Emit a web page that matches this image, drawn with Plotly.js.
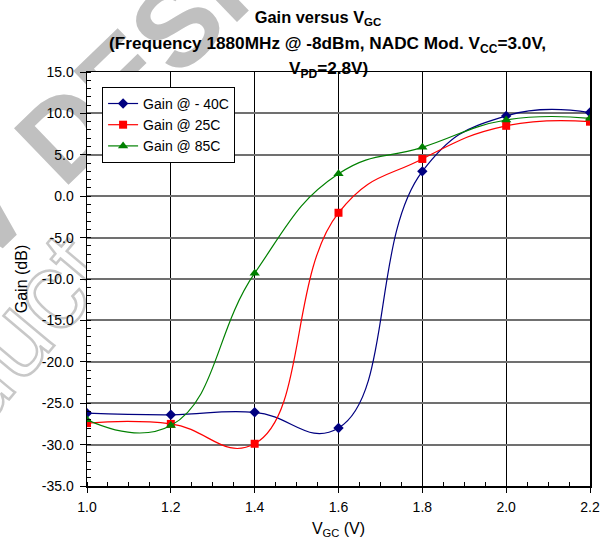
<!DOCTYPE html>
<html>
<head>
<meta charset="utf-8">
<script src="https://cdn.plot.ly/plotly-3.0.1.min.js"></script>
<style>
  html, body { margin: 0; padding: 0; background: #ffffff; }
  #wrap { position: relative; width: 608px; height: 542px; overflow: hidden; }
  #wm { position: absolute; left: 0; top: 0; z-index: 0; }
  #chart { position: absolute; left: 0; top: 0; width: 608px; height: 542px; z-index: 1; }
</style>
</head>
<body>
<div id="wrap">
  <svg id="wm" width="608" height="542" xmlns="http://www.w3.org/2000/svg"></svg>
  <div id="chart"></div>
</div>
<script>
// ---- data ----
const vgc = [1.0, 1.2, 1.4, 1.6, 1.8, 2.0, 2.2];
const gainM40 = [-26.2, -26.4, -26.1, -28.0, 3.0, 9.7, 10.1];
const gain25  = [-27.4, -27.5, -29.9, -2.0, 4.5, 8.5, 9.0];
const gain85  = [-27.0, -27.7, -9.3, 2.7, 5.9, 9.2, 9.4];
const seriesNames = ['Gain @ - 40C', 'Gain @ 25C', 'Gain @ 85C'];
const xTickVals = [1.0, 1.2, 1.4, 1.6, 1.8, 2.0, 2.2];
const xTickText = ['1.0', '1.2', '1.4', '1.6', '1.8', '2.0', '2.2'];
const yTickVals = [-35, -30, -25, -20, -15, -10, -5, 0, 5, 10, 15];
const yTickText = ['-35.0', '-30.0', '-25.0', '-20.0', '-15.0', '-10.0', '-5.0', '0.0', '5.0', '10.0', '15.0'];
const titleLine1 = '<b>Gain versus V<sub>GC</sub></b>';
const titleLine2 = '<b>(Frequency 1880MHz @ -8dBm, NADC Mod. V<sub>CC</sub>=3.0V,</b>';
const titleLine3 = '<b>V<sub>PD</sub>=2.8V)</b>';
const xTitle = 'V<sub>GC</sub> (V)';
const yTitle = 'Gain (dB)';
const wmLine1a = 'NEW';
const wmLine1b = 'DESIGN';
const wmLine2 = 'Product';

// ---- background watermark (grey, hidden by the plot area) ----
(function () {
  const svg = document.getElementById('wm');
  const NS = 'http://www.w3.org/2000/svg';
  function addText(str, x, y, ang, size, weight, fill, stroke, sw, anchor, shift) {
    const t = document.createElementNS(NS, 'text');
    t.textContent = str;
    t.setAttribute('x', 0);
    t.setAttribute('y', 0);
    t.setAttribute('font-family', 'Arial, "Liberation Sans", sans-serif');
    t.setAttribute('font-size', size);
    t.setAttribute('font-weight', weight);
    t.setAttribute('fill', fill);
    if (stroke) { t.setAttribute('stroke', stroke); t.setAttribute('stroke-width', sw); }
    t.setAttribute('text-anchor', anchor);
    t.setAttribute('transform', 'translate(' + x + ',' + y + ') rotate(' + ang + ') translate(' + (shift || 0) + ',0)');
    svg.appendChild(t);
    return t;
  }
  const ang1 = -44, fs1 = 114;
  addText(wmLine1b, 63, 190, ang1, fs1, 'bold', '#c0c0c0', null, 0, 'start', 0);
  addText(wmLine1a, 63, 190, ang1, fs1, 'bold', '#c0c0c0', null, 0, 'end', -44);
  const t2 = addText(wmLine2, 59, 340, -50, 110, 'normal', 'none', '#c8c8c8', 2.5, 'start', 0);
  try {
    const sub = t2.getSubStringLength(0, 5);
    t2.setAttribute('transform', 'translate(59,340) rotate(-50) translate(' + (-sub) + ',0)');
  } catch (e) {}
})();

// ---- chart ----
const FONT = 'Arial, "Liberation Sans", sans-serif';
const traces = [
  { x: vgc, y: gainM40, name: seriesNames[0], type: 'scatter', mode: 'lines+markers',
    line: { color: '#000080', width: 1.2, shape: 'spline', smoothing: 1.3 },
    marker: { symbol: 'diamond', size: 8, color: '#000080' } },
  { x: vgc, y: gain25, name: seriesNames[1], type: 'scatter', mode: 'lines+markers',
    line: { color: '#ff0000', width: 1.2, shape: 'spline', smoothing: 1.3 },
    marker: { symbol: 'square', size: 8, color: '#ff0000' } },
  { x: vgc, y: gain85, name: seriesNames[2], type: 'scatter', mode: 'lines+markers',
    line: { color: '#008000', width: 1.2, shape: 'spline', smoothing: 1.3 },
    marker: { symbol: 'triangle-up', size: 9, color: '#008000' } }
];

const layout = {
  width: 608, height: 542,
  margin: { l: 87, r: 18, t: 72, b: 56, pad: 0 },
  paper_bgcolor: 'rgba(0,0,0,0)',
  plot_bgcolor: '#ffffff',
  font: { family: FONT, size: 14, color: '#000000' },
  showlegend: true,
  title: { text: titleLine1, font: { family: FONT, size: 16.4, color: '#000' },
           x: 318 / 608, xanchor: 'center', xref: 'container', y: 1 - 17 / 542, yref: 'container', yanchor: 'middle' },
  xaxis: {
    range: [1.0, 2.2], tickmode: 'array', tickvals: xTickVals, ticktext: xTickText,
    ticks: 'outside', ticklen: 5, tickwidth: 1, tickcolor: '#000',
    showline: true, linecolor: '#000', linewidth: 1.5, mirror: true,
    showgrid: true, gridcolor: '#000000', gridwidth: 1, zeroline: false,
    minor: { tickmode: 'linear', tick0: 1.0, dtick: 0.05, ticks: 'inside', ticklen: 4, tickcolor: '#000', showgrid: false },
    tickfont: { family: FONT, size: 14, color: '#000' },
    ticklabelstandoff: 3,
    title: { text: xTitle, font: { family: FONT, size: 16, color: '#000' }, standoff: 8 }
  },
  yaxis: {
    range: [-35, 15], tickmode: 'array', tickvals: yTickVals, ticktext: yTickText,
    ticks: 'outside', ticklen: 6, tickwidth: 1, tickcolor: '#000',
    showline: true, linecolor: '#000', linewidth: 1.5, mirror: true,
    showgrid: true, gridcolor: '#707070', gridwidth: 2, zeroline: false,
    minor: { tickmode: 'linear', tick0: -35, dtick: 1, ticks: 'inside', ticklen: 4, tickcolor: '#000', showgrid: false },
    tickfont: { family: FONT, size: 14, color: '#000' },
    ticklabelstandoff: 3,
    title: { text: yTitle, font: { family: FONT, size: 16, color: '#000' }, standoff: 10 }
  },
  legend: {
    x: 0.03, y: 0.964, xanchor: 'left', yanchor: 'top',
    bgcolor: '#ffffff', bordercolor: '#000', borderwidth: 1,
    font: { family: FONT, size: 14, color: '#000' }, tracegroupgap: 0
  },
  annotations: [
    { text: titleLine2, xref: 'paper', yref: 'paper', x: (327 - 87) / 503, y: (486 - 45) / 414,
      xanchor: 'center', yanchor: 'middle', showarrow: false, font: { family: FONT, size: 17.2, color: '#000' } },
    { text: titleLine3, xref: 'paper', yref: 'paper', x: (328 - 87) / 503, y: (486 - 70) / 414,
      xanchor: 'center', yanchor: 'middle', showarrow: false, font: { family: FONT, size: 17.2, color: '#000' } }
  ]
};

Plotly.newPlot('chart', traces, layout, { displayModeBar: false, staticPlot: true });
</script>
</body>
</html>
